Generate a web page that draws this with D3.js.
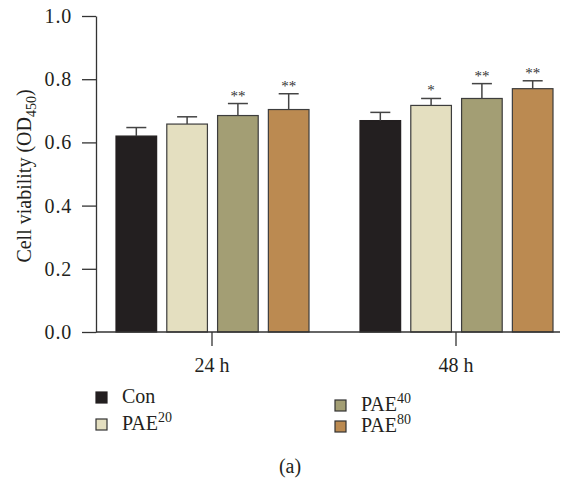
<!DOCTYPE html>
<html>
<head>
<meta charset="utf-8">
<script src="https://cdn.jsdelivr.net/npm/d3@7"></script>
<style>
  html, body { margin: 0; padding: 0; background: #fff; }
  svg text { font-family: "Liberation Serif", "DejaVu Serif", serif; fill: #231f20; }
</style>
</head>
<body>
<svg id="chart" width="565" height="483"></svg>
<script>
const groups = ["24 h", "48 h"];
const seriesNames = ["Con", "PAE", "PAE", "PAE"];
const seriesSup = ["", "20", "40", "80"];
const seriesKeys = ["Con", "PAE20", "PAE40", "PAE80"];
const colors = ["#231f20", "#e4dfc0", "#a39e74", "#bb8a51"];
const means24 = [0.620, 0.658, 0.685, 0.704];
const means48 = [0.669, 0.717, 0.739, 0.770];
const err24 = [0.027, 0.023, 0.038, 0.050];
const err48 = [0.026, 0.022, 0.047, 0.025];
const sig24 = ["", "", "**", "**"];
const sig48 = ["", "*", "**", "**"];
const yTicks = [0, 0.2, 0.4, 0.6, 0.8, 1.0];

const means = [means24, means48];
const errs = [err24, err48];
const sigs = [sig24, sig48];

const data = [];
groups.forEach((g, gi) => seriesKeys.forEach((k, si) => {
  data.push({group: g, key: k, si, mean: means[gi][si], err: errs[gi][si], sig: sigs[gi][si]});
}));

const svg = d3.select("#chart");
const axisLeftX = 96, axisRightX = 560;
const y = d3.scaleLinear().domain([0, 1]).range([332, 16]);
const x0 = d3.scaleBand().domain(groups).range([90, 578]).padding(0);
const x1 = d3.scaleBand().domain(seriesKeys).range([26, 219]).paddingInner(0.2).paddingOuter(0);

const axisColor = "#333";

// bars
const barG = svg.append("g");
barG.selectAll("rect").data(data).join("rect")
  .attr("x", d => x0(d.group) + x1(d.key))
  .attr("y", d => y(d.mean))
  .attr("width", x1.bandwidth())
  .attr("height", d => y(0) - y(d.mean))
  .attr("fill", d => colors[d.si])
  .attr("stroke", d => d.si === 0 ? colors[0] : "#3d3d3d")
  .attr("stroke-width", 1.2);

// error bars
const eb = svg.append("g").attr("stroke", "#444").attr("stroke-width", 1.5);
data.forEach(d => {
  const cx = x0(d.group) + x1(d.key) + x1.bandwidth() / 2;
  eb.append("line").attr("x1", cx).attr("x2", cx).attr("y1", y(d.mean)).attr("y2", y(d.mean + d.err));
  eb.append("line").attr("x1", cx - 10).attr("x2", cx + 10).attr("y1", y(d.mean + d.err)).attr("y2", y(d.mean + d.err));
});

// significance stars
svg.append("g").selectAll("text").data(data.filter(d => d.sig)).join("text")
  .attr("x", d => x0(d.group) + x1(d.key) + x1.bandwidth() / 2)
  .attr("y", d => y(d.mean + d.err) - 3)
  .attr("text-anchor", "middle")
  .attr("font-size", 15)
  .style("fill", "#333")
  .text(d => d.sig);

// y axis
const yAxis = svg.append("g").attr("transform", `translate(${axisLeftX},0)`)
  .call(d3.axisLeft(y).tickValues(yTicks).tickFormat(d3.format(".1f")).tickSize(14).tickSizeOuter(0).tickPadding(10));
yAxis.selectAll("text").attr("font-size", 20).attr("letter-spacing", 0.8).style("font-family", "Liberation Serif");
yAxis.selectAll("line, path").attr("stroke", axisColor).attr("stroke-width", 1.3);

// x axis
const xAxis = svg.append("g").attr("transform", `translate(0,${y(0)})`)
  .call(d3.axisBottom(x0).tickSize(14).tickSizeOuter(0).tickPadding(12));
xAxis.select(".domain").remove();
xAxis.append("line").attr("x1", axisLeftX).attr("x2", axisRightX).attr("y1", 0).attr("y2", 0);
xAxis.selectAll("line").attr("stroke", axisColor).attr("stroke-width", 1.3);
xAxis.selectAll("text").attr("font-size", 20).style("font-family", "Liberation Serif");

// y title
const yt = svg.append("text").attr("transform", "translate(31,176) rotate(-90)")
  .attr("text-anchor", "middle").attr("font-size", 20);
yt.append("tspan").text("Cell viability (OD");
yt.append("tspan").attr("font-size", 14).attr("dy", 5).text("450");
yt.append("tspan").attr("dy", -5).text(")");

// legend
const legendPos = [[96, 392], [96, 419], [335, 400], [335, 421]];
const lg = svg.append("g");
seriesKeys.forEach((k, i) => {
  const [lx, ly] = legendPos[i];
  lg.append("rect").attr("x", lx).attr("y", ly).attr("width", 11).attr("height", 11)
    .attr("fill", colors[i]).attr("stroke", i === 0 ? colors[0] : "#333").attr("stroke-width", 1.2);
  const t = lg.append("text").attr("x", lx + 26).attr("y", ly + 11).attr("font-size", 20);
  t.append("tspan").text(seriesNames[i]);
  if (seriesSup[i]) t.append("tspan").attr("font-size", 14).attr("dy", -8).text(seriesSup[i]);
});

// caption
svg.append("text").attr("x", 290).attr("y", 473).attr("text-anchor", "middle").attr("font-size", 20).text("(a)");
</script>
</body>
</html>
